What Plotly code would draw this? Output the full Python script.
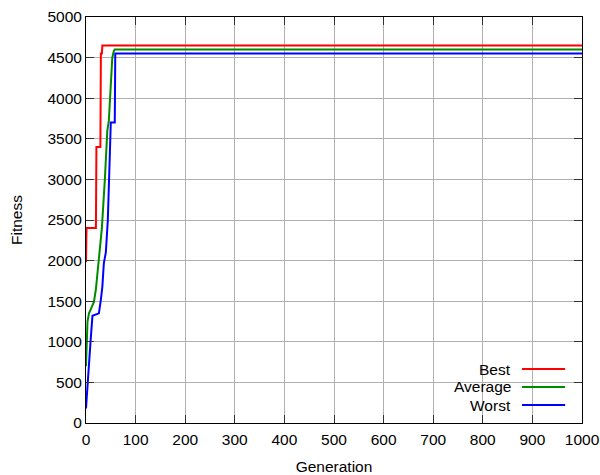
import plotly.graph_objects as go

# Fitness per generation (breakpoints of each curve)
best_gen = [0, 1, 20, 21, 29, 30, 32, 33, 1000]
best_fit = [1980, 2400, 2400, 3400, 3400, 4550, 4550, 4650, 4650]

avg_gen = [0, 1, 3, 6, 12, 16, 20, 26, 32, 38, 43, 46, 53, 56, 58, 1000]
avg_fit = [700, 1000, 1250, 1350, 1430, 1490, 1650, 2000, 2400, 3000, 3600, 3720, 4500, 4580, 4600, 4600]

worst_gen = [0, 3, 9, 13, 26, 30, 33, 36, 40, 44, 47, 50, 58, 59, 1000]
worst_fit = [180, 500, 990, 1320, 1350, 1520, 1680, 1970, 2100, 2500, 3000, 3700, 3700, 4550, 4550]

series_names = ["Best", "Average", "Worst"]
series_colors = ["#ff0000", "#008a00", "#0000ff"]
series_data = [(best_gen, best_fit), (avg_gen, avg_fit), (worst_gen, worst_fit)]

x_ticks = list(range(0, 1001, 100))
y_ticks = list(range(0, 5001, 500))

FONT = "Liberation Sans, Arial, sans-serif"
FS = 15.5

fig = go.Figure()
for name, color, (gx, gy) in zip(series_names, series_colors, series_data):
    fig.add_trace(go.Scatter(x=gx, y=gy, mode="lines", name=name,
                             line=dict(color=color, width=2), showlegend=False))

# gnuplot-style key: right-aligned label followed by a line sample
key_text_x = 0.861
key_line_x0, key_line_x1 = 0.879, 0.966
key_rows = [0.133, 0.0887, 0.0443]
for name, color, ky in zip(series_names, series_colors, key_rows):
    fig.add_annotation(x=key_text_x, y=ky, xref="paper", yref="paper", text=name,
                       showarrow=False, xanchor="right", yanchor="middle",
                       font=dict(family=FONT, size=FS, color="black"))
    fig.add_shape(type="line", xref="paper", yref="paper",
                  x0=key_line_x0, x1=key_line_x1, y0=ky, y1=ky,
                  line=dict(color=color, width=2))

axis_common = dict(
    showgrid=True, gridcolor="#b0b0b0", gridwidth=1,
    showline=True, linecolor="black", linewidth=1, mirror="ticks",
    ticks="inside", ticklen=8, tickcolor="#333333", tickwidth=1,
    tickfont=dict(family=FONT, size=FS, color="black"),
    zeroline=False, automargin=False,
)

fig.update_xaxes(range=[0, 1000], tickvals=x_ticks, ticklabelstandoff=2,
                 title=dict(text="Generation", font=dict(family=FONT, size=FS, color="black"), standoff=15),
                 **axis_common)
fig.update_yaxes(range=[0, 5000], tickvals=y_ticks,
                 title=dict(text="Fitness", font=dict(family=FONT, size=FS, color="black"), standoff=20),
                 **axis_common)

fig.update_layout(
    width=600, height=475,
    margin=dict(l=86, r=18, t=17, b=52, pad=0),
    paper_bgcolor="white", plot_bgcolor="white",
    font=dict(family=FONT, size=FS, color="black"),
)

fig.write_html("out.html")
